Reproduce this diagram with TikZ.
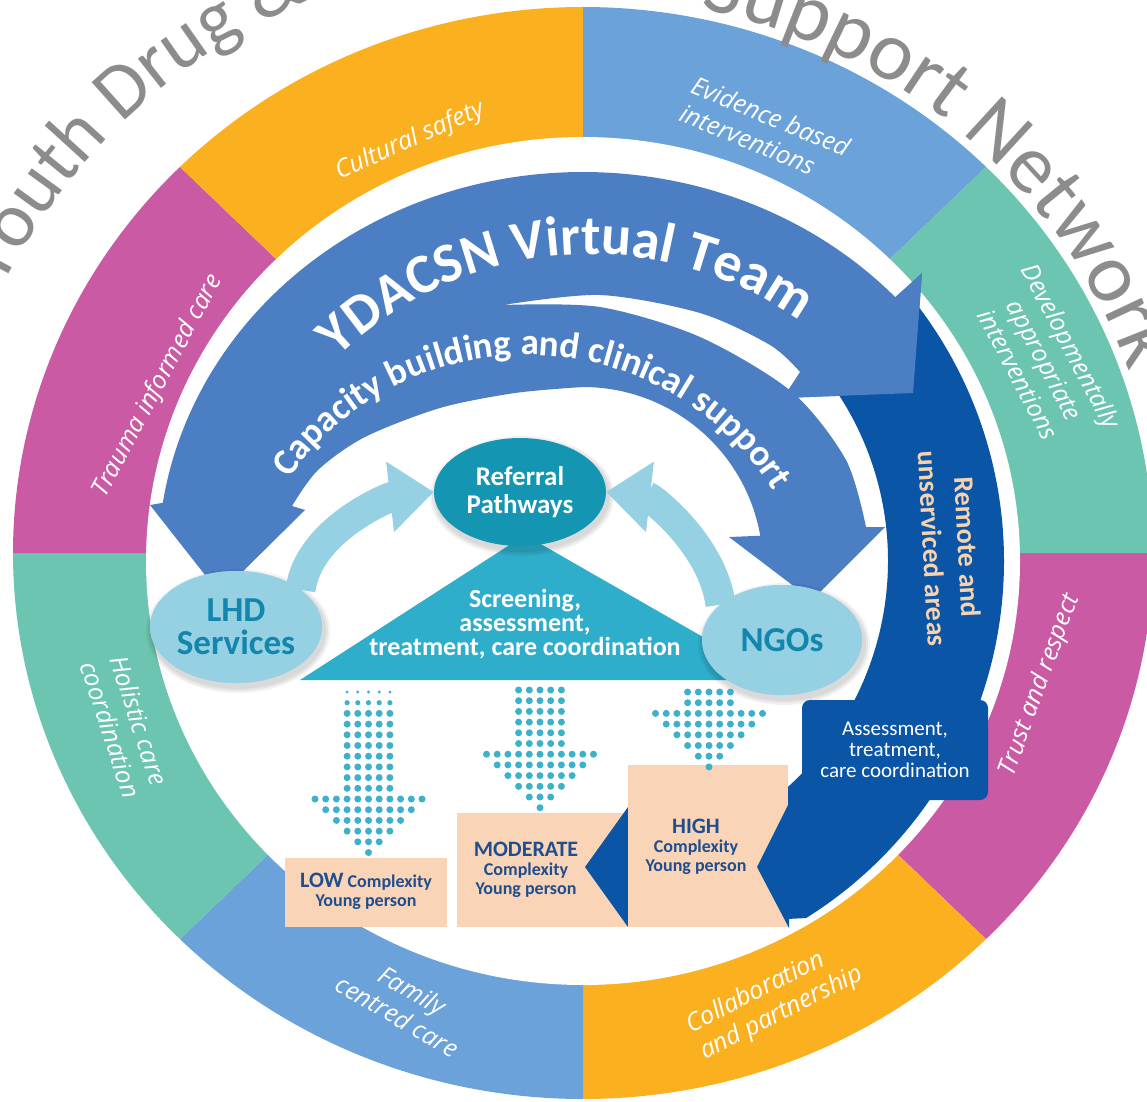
\documentclass[tikz,border=0pt]{standalone}
\usepackage{fontspec}
\setmainfont{Open Sans}
\newfontfamily\calfont{Carlito}
\usetikzlibrary{shapes.geometric,decorations.text,arrows.meta,calc}

\definecolor{ringorange}{HTML}{FBB020}
\definecolor{ringblue}{HTML}{6AA2D9}
\definecolor{ringteal}{HTML}{6CC5B0}
\definecolor{ringpink}{HTML}{CB5AA5}
\definecolor{bandblue}{HTML}{4C7EC3}
\definecolor{deepblue}{HTML}{0A55A5}
\definecolor{refteal}{HTML}{1496B3}
\definecolor{triteal}{HTML}{2FAECB}
\definecolor{dotteal}{HTML}{3DB1CA}
\definecolor{palecyan}{HTML}{95D0E3}
\definecolor{peach}{HTML}{F9D4B7}
\definecolor{navy}{HTML}{1F4E8E}
\definecolor{blobtext}{HTML}{1386AD}
\definecolor{titlegray}{HTML}{8C8C8C}
\definecolor{remotetext}{HTML}{F7D2B0}

\tikzset{
  ringlabel/.style={text=white,font=\fontsize{25}{30}\selectfont\itshape,align=center,inner sep=0pt},
  blob/.style={ellipse,fill=palecyan,inner sep=0pt,text=blobtext,font=\calfont\bfseries\fontsize{35}{33}\selectfont,align=center},
  leveltext/.style={text=navy,font=\calfont\bfseries\fontsize{18}{19}\selectfont,align=center,inner sep=0pt},
  paleshaft/.style={palecyan,line width=30pt,-{Triangle[length=44pt,width=68pt]}},
}

\newcommand\dotarrow[3]{%
  \foreach \r in {1,...,#3}{%
    \pgfmathsetmacro\rad{ifthenelse(#3>6,ifthenelse(\r==1,1.6,ifthenelse(\r==2,2.6,3.5)),3.5)}%
    \foreach \cc in {-2,...,2}
      \fill[dotteal] ({#1+\cc*10.7},{#2+(\r-1)*10.7}) circle[radius=\rad];}%
  \foreach \k in {0,...,5}{%
    \pgfmathtruncatemacro\n{5-\k}%
    \pgfmathtruncatemacro\m{2*\n}%
    \foreach \cc in {0,...,\m}
      \fill[dotteal] ({#1+(\cc-\n)*10.7},{#2+(#3+\k)*10.7}) circle[radius=3.5];}%
}
\newcommand\softshadow[4]{%
  \foreach \s in {1,2,3}
    \fill[black,opacity=.05] ({#1+2},{#2+4}) ellipse[x radius={#3+2*\s},y radius={#4+2*\s}];}

\begin{document}
\begin{tikzpicture}[x=1pt,y=-1pt]
\useasboundingbox (0,0) rectangle (1147,1101);
\clip (0,0) rectangle (1147,1101);
\coordinate (O) at (583,553);
\coordinate (C) at (583,561);
\coordinate (T) at (543,558);

\foreach \a/\col in {0/ringpink,45/ringorange,90/ringblue,135/ringteal,180/ringpink,225/ringorange,270/ringblue,315/ringteal}
  \fill[\col] (O) -- ++(\a:570 and 546) arc[start angle=\a,delta angle=45,x radius=570,y radius=546] -- cycle;
\fill[white] (C) ellipse[x radius=437,y radius=424];

\path[decorate,decoration={text along path,text align=left,text color=titlegray,
  text={|\calfont\fontsize{78}{78}\selectfont|Youth Drug {\&} Alcohol}}]
  ($(T)+(-153.5:605)$) arc[start angle=-153.5,end angle=-40,radius=605];
\path[decorate,decoration={text along path,text align=right,text color=titlegray,
  text={|\calfont\fontsize{84}{84}\selectfont|Support Network}}]
  ($(O)+(-88:578 and 556)$) arc[start angle=-88,end angle=-19,x radius=578,y radius=556];

\fill[bandblue] ($(C)+(-42.5:425 and 389)$) arc[start angle=-42.5,end angle=-171.4,x radius=425,y radius=389]
  -- (150,505) -- (220,594) -- (305,510) -- (292,506)
  -- plot[smooth] coordinates {(292,506) (318,470) (365,437) (440,408) (515,393) (583,387)}
  arc[start angle=-90,end angle=-10,radius=180]
  -- (729,537) -- (812,600) -- (885,527) -- (866,527)
  -- plot[smooth] coordinates {(866,527) (846,460) (792,392) (700,337) (600,307) (503,305)}
  -- plot[smooth] coordinates {(503,305) (600,295) (700,313) (770,345) (800,372)}
  -- (783,398) -- (913,393) -- (922,273) -- cycle;

\fill[triteal] (525,535) -- (300,680) -- (778,680) -- cycle;

\fill[peach] (285,858) rectangle (447,927);
\fill[peach] (457,813) rectangle (628,927);
\fill[deepblue] ($(C)+(-37:421)$) arc[start angle=-37,end angle=58,radius=421]
  -- (628,927) -- (585,867) -- (628,807) -- ($(C)+(50:305)$)
  arc[start angle=50,end angle=-37,radius=305] -- cycle;
\fill[bandblue] (783,398) -- (913,393) -- (922,273) -- cycle;
\fill[peach] (628,765) rectangle (788,927);
\fill[deepblue] (789,803) -- (757,867) -- (789,928) -- cycle;

\softshadow{520}{492}{86}{54}
\node[ellipse,fill=refteal,minimum width=172,minimum height=108,inner sep=0pt,text=white,
  font=\calfont\bfseries\fontsize{27}{28}\selectfont,align=center] (referral) at (520,492) {Referral\\Pathways};
\softshadow{236}{627}{86}{56}
\softshadow{782}{640}{80}{55}
\node[blob,minimum width=172,minimum height=112] (lhd) at (236,627) {LHD\\Services};
\node[blob,minimum width=160,minimum height=110] (ngos) at (782,640) {NGOs};
\draw[paleshaft] (lhd.30) .. controls +(8,-60) and +(-45,5) .. (referral.west);
\draw[paleshaft] (ngos.150) .. controls +(-8,-60) and +(45,5) .. (referral.east);
\node[blob,minimum width=172,minimum height=112] at (lhd) {LHD\\Services};
\node[blob,minimum width=160,minimum height=110] at (ngos) {NGOs};
\node[text=white,font=\calfont\bfseries\fontsize{26}{24}\selectfont,align=center,inner sep=0pt] (screening) at (525,624)
  {Screening,\\assessment,\\treatment, care coordination};

\dotarrow{368.5}{692}{10}
\dotarrow{540}{690}{6}
\dotarrow{709}{692}{2}

\node[leveltext] (low) at (366,891) {{\fontsize{22}{22}\selectfont LOW} Complexity\\Young person};
\node[leveltext] (moderate) at (526,870) {{\fontsize{22}{22}\selectfont MODERATE}\\Complexity\\Young person};
\node[leveltext] (high) at (696,847) {{\fontsize{22}{22}\selectfont HIGH}\\Complexity\\Young person};

\node[fill=deepblue,rounded corners=8pt,minimum width=186,minimum height=100,inner sep=0pt,text=white,
  font=\calfont\fontsize{21}{21}\selectfont,align=center] (assess) at (895,750) {Assessment,\\treatment,\\care coordination};
\node[rotate=-87,text=remotetext,font=\calfont\bfseries\fontsize{28}{35}\selectfont,align=center] (remote) at (950,548)
  {Remote and\\unserviced areas};

\path[decorate,decoration={text along path,text align=center,text color=white,
  text={|\calfont\bfseries\fontsize{56}{56}\selectfont|YDACSN Virtual Team}}]
  ($(590,612)+(-144.5:358)$) arc[start angle=-144.5,end angle=-44.5,radius=358];
\path[decorate,decoration={text along path,text align=center,text color=white,
  text={|\calfont\bfseries\fontsize{37}{37}\selectfont|Capacity building and clinical support}}]
  ($(527,646)+(-148.5:291)$) arc[start angle=-148.5,end angle=-28.5,radius=291];

\node[ringlabel,rotate=24] (cultural) at (410,141) {Cultural safety};
\node[ringlabel,rotate=-22.5,align=left] (evidence) at (765,130) {Evidence based\\interventions};
\node[ringlabel,rotate=62] (trauma) at (158,386) {Trauma informed care};
\node[ringlabel,rotate=-62] (develop) at (1045,360) {Developmentally\\appropriate\\interventions};
\node[ringlabel,rotate=-72] (holistic) at (125,725) {Holistic care\\coordination};
\node[ringlabel,rotate=70] (trust) at (1040,685) {Trust and respect};
\node[ringlabel,rotate=-30] (family) at (405,1003) {Family\\centred care};
\node[ringlabel,rotate=27,align=left] (collab) at (775,1000) {Collaboration\\and partnership};
\end{tikzpicture}
\end{document}
